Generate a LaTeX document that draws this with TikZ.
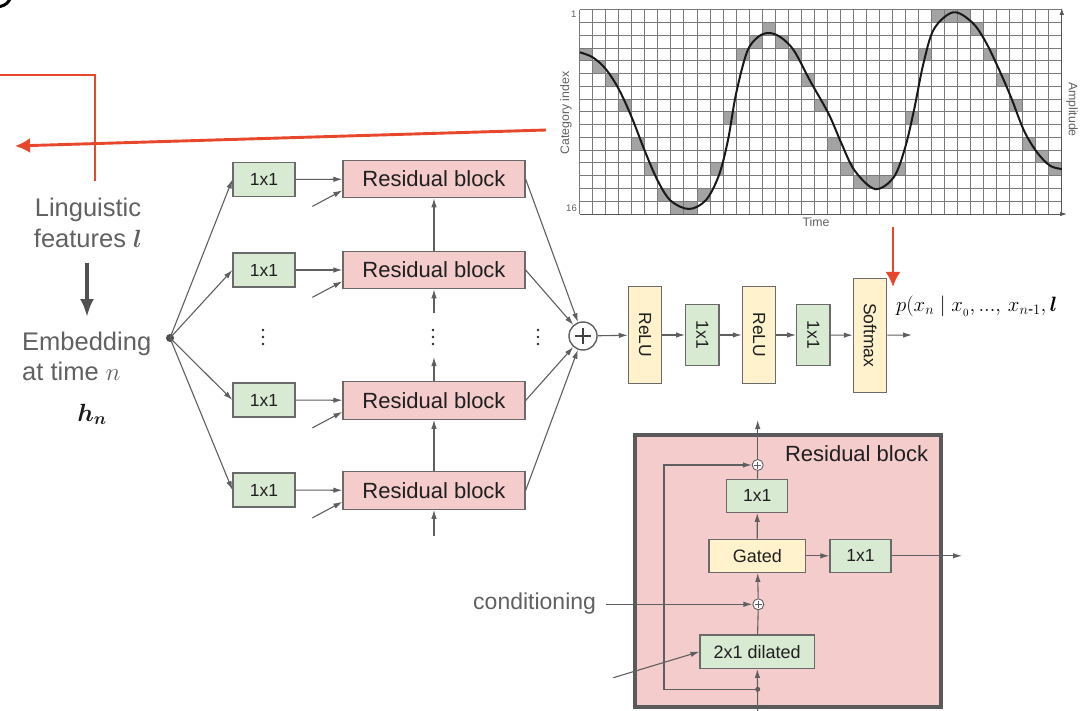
\documentclass[tikz,border=0pt]{standalone}
\usepackage{amsmath,bm}
\usepackage[no-math]{fontspec}
\setmainfont{Liberation Sans}
\usetikzlibrary{arrows.meta}
\definecolor{gfill}{HTML}{D9EAD3}
\definecolor{pfill}{HTML}{F4CCCC}
\definecolor{yfill}{HTML}{FFF2CC}
\definecolor{bord}{HTML}{6A6A6A}
\definecolor{lin}{HTML}{5F5F5F}
\definecolor{redA}{HTML}{E8472B}
\definecolor{txtg}{HTML}{616161}
\definecolor{gridc}{HTML}{7A7A7A}
\definecolor{cellc}{HTML}{A3A3A3}
\definecolor{darkbord}{HTML}{5A5A5A}
\newcommand\myfs[1]{\fontsize{#1}{#1}\selectfont}
\begin{document}
\begin{tikzpicture}[x=1pt,y=-1pt,
  box/.style={draw=bord, line width=1.2pt, inner sep=0pt, text=black!88},
  gbox/.style={box, fill=gfill, minimum width=62pt, minimum height=34pt, font=\myfs{17.5}},
  pbox/.style={box, fill=pfill, minimum width=182pt, minimum height=37.5pt, font=\myfs{22}},
  vgbox/.style={box, fill=gfill, rotate=-90, minimum width=61.7pt, minimum height=33.3pt, font=\myfs{17.5}},
  vybox/.style={box, fill=yfill, rotate=-90, minimum height=33.3pt, font=\myfs{17.5}},
  arr/.style={draw=lin, line width=1.1pt, -{Latex[length=9pt,width=5.5pt]}},
  ln/.style={draw=lin, line width=1.1pt},
  redl/.style={draw=redA, line width=2.9pt},
  redarr/.style={redl, -{Latex[length=15pt,width=15pt]}},
  bigarr/.style={draw=lin!85!black, line width=3.5pt, -{Latex[length=18pt,width=14pt]}},
  axisarr/.style={draw=gridc!70!black, line width=0.9pt, -{Latex[length=7pt,width=4.5pt]}},
  lbl/.style={text=txtg, inner sep=0pt},
  smallplus/.style={circle, draw=lin, line width=0.9pt, fill=white, minimum size=11pt, inner sep=0pt}
]
\clip (0,0) rectangle (1081,711);
\fill[white] (0,0) rectangle (1081,711);

% corner fragment
\draw[line width=3pt, line cap=round] (0,6.5) .. controls (5,5.5) and (8,3) .. (10,-1);

% ---------------- waveform -----------------
\foreach \c/\r in {0/3,1/4,2/5,3/7,4/10,5/12,6/14,7/15,8/15,9/14,10/12,11/8,12/3,13/2,14/1,15/2,16/3,17/5,18/7,19/10,20/12,21/13,22/13,23/13,24/12,25/8,26/3,27/0,28/0,29/0,30/1,31/3,32/5,33/7,34/10,35/11,36/12}
  \fill[cellc] ({579.7+13.03*\c},{9.7+12.77*\r}) rectangle +(13.03,12.77);
\foreach \i in {0,...,36}
  \draw[gridc, line width=0.9pt] ({579.7+13.03*\i},9.7) -- ({579.7+13.03*\i},214);
\foreach \j in {0,...,15}
  \draw[gridc, line width=0.9pt] (579.7,{9.7+12.77*\j}) -- (1061.8,{9.7+12.77*\j});
\coordinate (ax0) at (1061.8,214);
\coordinate (axx) at (1067,214);
\coordinate (axy) at (1061.8,8);
\draw[axisarr] (579.7,214) -- (axx);
\draw[axisarr] (ax0) -- (axy);
\draw[black!90, line width=2pt] plot[smooth, tension=0.55] coordinates {
 (579.7,52.3) (592.7,57.3) (605.7,69) (618.7,89) (631.7,117.3) (644.7,150.7) (657.7,180.7) (670.7,200.7) (689,209) (706,200) (719,175) (728,140) (736,94) (747,52) (758,37) (769,33) (780.7,37.3) (794,50.7) (810,80.7) (828.7,114) (841.7,144) (854.7,170.7) (875,189) (893.7,177.3) (905,148) (914,110) (923.3,64) (934,29) (953.3,12.3) (972,22.3) (985,40.7) (998,67.3) (1011,97.3) (1024,130.7) (1037,152.3) (1050,165.7) (1061.8,169)};
\node[lbl, font=\myfs{9.5}, anchor=east] (one) at (576.5,14.5) {1};
\node[lbl, font=\myfs{9.5}, anchor=east] (sixteen) at (577,208.5) {16};
\node[lbl, font=\myfs{12.3}, rotate=90] (catidx) at (566,113) {Category index};
\node[lbl, font=\myfs{12.3}, rotate=-90] (ampl) at (1072,109.5) {Amplitude};
\node[lbl, font=\myfs{12.3}] (time) at (816,222.5) {Time};

% ---------------- red arrows -----------------
\coordinate (ra) at (-2,75);
\coordinate (rb) at (95,75);
\coordinate (rc) at (95,181);
\draw[redl] (ra) -- (rb) -- (rc);
\coordinate (rs) at (546,130);
\coordinate (re) at (15,146);
\draw[redarr] (rs) -- (re);
\coordinate (rd1) at (893,227);
\coordinate (rd2) at (893,287);
\draw[redarr] (rd1) -- (rd2);

% ---------------- left text -----------------
\node[lbl, font=\myfs{25.5}, anchor=base] (ling1) at (88,217) {Linguistic};
\node[lbl, font=\myfs{25.5}, anchor=base] (ling2) at (88,248) {features $\bm{l}$};
\node[lbl, font=\myfs{25.5}, anchor=base west] (emb1) at (22,350) {Embedding};
\node[lbl, font=\myfs{25.5}, anchor=base west] (emb2) at (22,380) {at time $n$};
\node[font=\myfs{25.5}, anchor=base, inner sep=0pt, text=black!90] (hn) at (92,421) {$\bm{h}_{\bm{n}}$};
\coordinate (la) at (87,263);
\coordinate (lb) at (87,317);
\draw[bigarr] (la) -- (lb);

% ---------------- stack -----------------
\fill[lin!80!black] (170,338) circle (4pt);
\coordinate (dot) at (170,338);
\node[gbox] (g1) at (264,179.5) {1x1};
\node[gbox] (g2) at (264,270) {1x1};
\node[gbox] (g3) at (264,400) {1x1};
\node[gbox] (g4) at (264,490) {1x1};
\node[pbox] (r1) at (434,179) {Residual block};
\node[pbox] (r2) at (434,270) {Residual block};
\node[pbox] (r3) at (434,400.5) {Residual block};
\node[pbox] (r4) at (434,490.5) {Residual block};
\foreach \k in {1,2,3,4} {
  \draw[arr] (dot) -- (g\k.west);
  \draw[arr] (g\k) -- (r\k);
  \draw[arr] ([shift={(-30,8)}]r\k.south west) -- ([yshift=8pt]r\k.south west);
}
\draw[arr] (r2) -- (r1);
\draw[arr] (r4) -- (r3);
\coordinate (v2) at (434,313);
\coordinate (v3) at (434,357);
\coordinate (v4) at (434,536);
\draw[arr] (v2) -- (r2);
\draw[arr] (r3) -- (v3);
\draw[arr] (v4) -- (r4);
\foreach \xx in {263,433,538}
  \foreach \dy in {-7,0,7}
    \fill[black!85] (\xx,{337+\dy}) circle (1.4pt);

\node[circle, draw=lin, line width=1.4pt, minimum size=28pt, inner sep=0pt, fill=white] (plus) at (583,336) {};
\draw[line width=2.6pt, black!75] ([xshift=-8pt]plus.center) -- ([xshift=8pt]plus.center);
\draw[line width=2.6pt, black!75] ([yshift=-8pt]plus.center) -- ([yshift=8pt]plus.center);
\foreach \k in {1,2,3,4}
  \draw[arr] (r\k.east) -- (plus);

% ---------------- output chain -----------------
\node[vybox, minimum width=96.7pt] (relu1) at (645,335) {ReLU};
\node[vgbox] (c1) at (702.3,335) {1x1};
\node[vybox, minimum width=96.7pt] (relu2) at (759,335) {ReLU};
\node[vgbox] (c2) at (813.3,335) {1x1};
\node[vybox, minimum width=114pt] (soft) at (870,335.3) {Softmax};
\coordinate (out) at (912,335);
\draw[arr] (plus) -- (relu1);
\draw[arr] (relu1) -- (c1);
\draw[arr] (c1) -- (relu2);
\draw[arr] (relu2) -- (c2);
\draw[arr] (c2) -- (soft);
\draw[arr] (soft) -- (out);
\node[anchor=base west, inner sep=0pt, font=\myfs{22}] (formula) at (896,311)
  {$p(x_n \mid x_{_0},\mathord{.}\mathord{.}\mathord{.},\, x_{n\text{-}1},\bm{l}$};

% ---------------- residual block detail -----------------
\node[draw=darkbord, line width=4pt, fill=pfill, minimum width=306pt, minimum height=272pt, inner sep=0pt] (bigbox) at (788,571) {};
\node[anchor=east, inner sep=0pt, font=\myfs{22}, text=black!88] (rbt) at (928.3,454) {Residual block};
\node[smallplus] (tplus) at (757.7,465) {};
\node[gbox, minimum width=61pt, minimum height=33pt] (b1) at (757.2,495.8) {1x1};
\node[box, fill=yfill, minimum width=96.7pt, minimum height=33pt, font=\myfs{18}] (gated) at (757.3,555.8) {Gated};
\node[gbox, minimum width=61pt, minimum height=33pt] (b2) at (860.5,555.8) {1x1};
\node[smallplus] (lplus) at (758.3,604.3) {};
\node[box, fill=gfill, minimum width=114.3pt, minimum height=33.3pt, font=\myfs{18}] (dil) at (757.2,651.7) {2x1 dilated};
\foreach \p in {tplus,lplus} {
  \draw[line width=1pt, lin] ([xshift=-3.5pt]\p.center) -- ([xshift=3.5pt]\p.center);
  \draw[line width=1pt, lin] ([yshift=-3.5pt]\p.center) -- ([yshift=3.5pt]\p.center);
}
\node[lbl, font=\myfs{23}, text=txtg] (cond) at (534.6,603.3) {conditioning};
\coordinate (condout) at (606,604.3);
\coordinate (bin) at (757.7,712);
\coordinate (jdot) at (757.7,689.3);
\coordinate (sk1) at (664,689.3);
\coordinate (sk2) at (664,465);
\coordinate (topout) at (757.7,420);
\coordinate (rightout) at (962,555.8);
\coordinate (dilin) at (613.3,677.7);
\draw[arr] (bin) -- (dil);
\fill[lin] (jdot) circle (2.5pt);
\draw[arr] (jdot) -- (sk1) -- (sk2) -- (tplus);
\draw[ln] (dil) -- (lplus);
\draw[arr] (lplus) -- (gated);
\draw[arr] (condout) -- (lplus);
\draw[arr] (gated) -- (b1);
\draw[ln] (b1) -- (tplus);
\draw[arr] (tplus) -- (topout);
\draw[arr] (gated) -- (b2);
\draw[arr] (b2) -- (rightout);
\draw[arr] (dilin) -- (dil.west);
\end{tikzpicture}
\end{document}
